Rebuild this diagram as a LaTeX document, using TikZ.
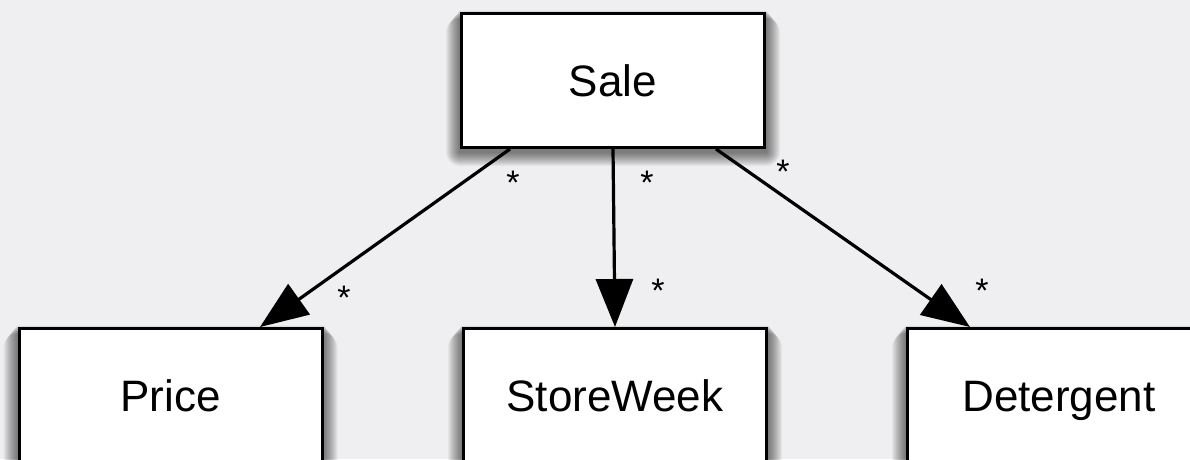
\documentclass[tikz,border=0pt]{standalone}
\usepackage{fontspec}
\setmainfont{Liberation Sans}
\usetikzlibrary{arrows.meta,calc}
\definecolor{bgcol}{RGB}{239,239,241}
\pgfdeclarelayer{bglayer}
\pgfdeclarelayer{shadowlayer}
\pgfsetlayers{bglayer,shadowlayer,main}
\begin{document}
\begin{tikzpicture}[x=1pt,y=-1pt,
  box/.style={draw=black,fill=white,line width=3pt,minimum width=303pt,minimum height=134pt,
    inner sep=0pt,font=\fontsize{44}{44}\selectfont,text height=31.5pt,text depth=0pt},
  assoc/.style={line width=3.2pt,-{Triangle[length=48pt,width=37pt]}},
  mult/.style={font=\fontsize{34}{34}\selectfont,inner sep=0pt}]
\useasboundingbox (0,0) rectangle (1190,459);
\clip (0,0) rectangle (1190,459);
\begin{pgfonlayer}{bglayer}
\fill[bgcol] (0,0) rectangle (1190,459);
\end{pgfonlayer}
\node[box] (sale) at (613,80.5) {Sale};
\node[box] (price) at (170.5,395.5) {Price};
\node[box] (storeweek) at (615,395.5) {StoreWeek};
\node[box] (detergent) at (1059,395.5) {Detergent};
\begin{pgfonlayer}{shadowlayer}
\foreach \n in {sale,price,storeweek,detergent}{
  \foreach \r in {1,2,...,14}{
    \fill[black,opacity=0.042,rounded corners=\r pt]
      ($(\n.north west)+(-\r,0.6*\r-2)$) rectangle ($(\n.south east)+(\r,\r+3)$);
  }
}
\end{pgfonlayer}
\coordinate (s1) at ($(sale.south)+(-103,0)$);
\coordinate (s2) at (sale.south);
\coordinate (s3) at ($(sale.south)+(103,0)$);
\coordinate (p1) at ($(price.north)+(89.5,0)$);
\coordinate (w1) at (storeweek.north);
\coordinate (d1) at ($(detergent.north)+(-89,0)$);
\draw[assoc] (s1) -- (p1);
\draw[assoc] (s2) -- (w1);
\draw[assoc] (s3) -- (d1);
\node[mult] (m1) at (513,183) {*};
\node[mult] (m2) at (344,298) {*};
\node[mult] (m3) at (647,183) {*};
\node[mult] (m4) at (658,291) {*};
\node[mult] (m5) at (783,172) {*};
\node[mult] (m6) at (982,291) {*};
\end{tikzpicture}
\end{document}
